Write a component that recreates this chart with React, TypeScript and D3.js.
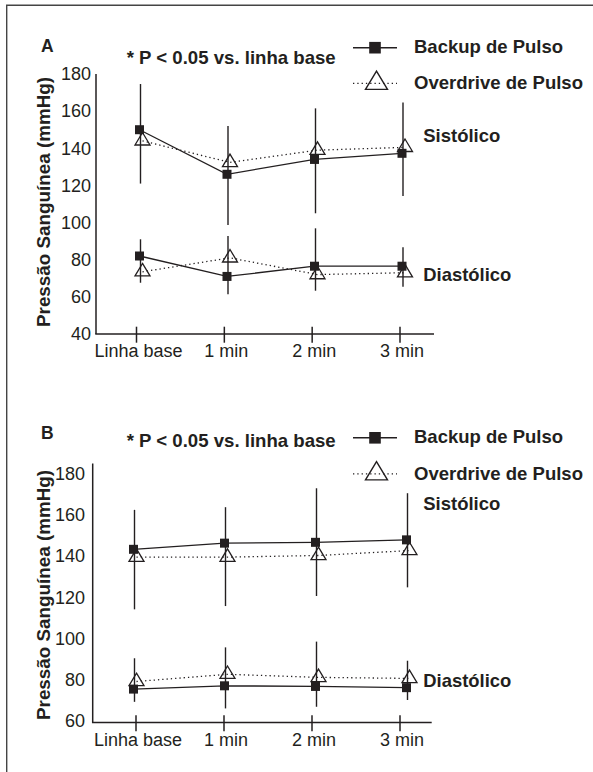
import React from 'react';
import * as d3 from 'd3';

const categories = ['Linha base', '1 min', '2 min', '3 min'];
const yTicksA = [40, 60, 80, 100, 120, 140, 160, 180];
const yTicksB = [60, 80, 100, 120, 140, 160, 180];
const seriesNames = ['Backup de Pulso', 'Overdrive de Pulso'];
const groupNames = ['Sistólico', 'Diastólico'];
const noteText = '* P < 0.05 vs. linha base';
const yTitle = 'Pressão Sanguínea (mmHg)';

// Panel A
const aBackupSys = [150, 126, 134, 137.3];
const aOverdriveSys = [144, 132.4, 139, 140.5];
const aBackupDia = [82, 71, 76.5, 76.5];
const aOverdriveDia = [73.5, 81, 72, 73];
const aSysErrLow = [121, 98.7, 105, 114.3];
const aSysErrHigh = [174.6, 152, 161.5, 164.6];
const aDiaErrLow = [67.6, 61.4, 63.3, 65.5];
const aDiaErrHigh = [91, 92.8, 96.9, 86.7];

// Panel B
const bBackupSys = [143.3, 146.3, 146.7, 147.9];
const bOverdriveSys = [139.5, 139.5, 140.3, 142.7];
const bBackupDia = [75.3, 76.9, 76.6, 76];
const bOverdriveDia = [79, 82.5, 81, 80.5];
const bSysErrLow = [114.1, 115.7, 120.6, 124.8];
const bSysErrHigh = [162.5, 163.8, 173, 170.6];
const bDiaErrLow = [69.1, 65.9, 66.7, 70];
const bDiaErrHigh = [90.3, 95.6, 98.4, 89.1];

const INK = '#231f20';
const FONT = "'Liberation Sans', Arial, Helvetica, sans-serif";

type PanelData = {
  letter: string;
  yTicks: number[];
  backupSys: number[];
  overdriveSys: number[];
  backupDia: number[];
  overdriveDia: number[];
  sysLo: number[];
  sysHi: number[];
  diaLo: number[];
  diaHi: number[];
};

type Layout = {
  axisX: number;
  axisRight: number;
  yDomain: [number, number];
  yRange: [number, number];
  axisTop: number;
  axisBottom: number;
  tickRange: [number, number];
  dataRange: [number, number];
  yLabelEnd: number;
  letterY: number;
  noteY: number;
  legendY1: number;
  legendY2: number;
  sysLabelY: number;
  diaLabelY: number;
  titleCenterY: number;
};

const layoutA: Layout = {
  axisX: 96,
  axisRight: 434,
  yDomain: [40, 180],
  yRange: [334, 74],
  axisTop: 74,
  axisBottom: 334,
  tickRange: [136.5, 400],
  dataRange: [139.5, 402],
  yLabelEnd: 91,
  letterY: 52.3,
  noteY: 64.3,
  legendY1: 47.7,
  legendY2: 83.3,
  sysLabelY: 141.7,
  diaLabelY: 280.7,
  titleCenterY: 202,
};

const layoutB: Layout = {
  axisX: 92.7,
  axisRight: 431.7,
  yDomain: [59, 185],
  yRange: [722.6, 463.6],
  axisTop: 463.4,
  axisBottom: 722.6,
  tickRange: [136, 400],
  dataRange: [133.5, 406.5],
  yLabelEnd: 85,
  letterY: 439.3,
  noteY: 446.7,
  legendY1: 437.8,
  legendY2: 473.8,
  sysLabelY: 510,
  diaLabelY: 686.7,
  titleCenterY: 595,
};

const triPath = (cx: number, cy: number, w: number, h: number) => {
  // centroid at (cx, cy)
  const top = cy - (2 * h) / 3;
  const bot = cy + h / 3;
  return `M${cx},${top}L${cx + w / 2},${bot}L${cx - w / 2},${bot}Z`;
};

function Panel({ d, L }: { d: PanelData; L: Layout }) {
  const y = d3.scaleLinear().domain(L.yDomain).range(L.yRange);
  const xTick = d3.scalePoint<string>().domain(categories).range(L.tickRange);
  const xData = d3.scalePoint<string>().domain(categories).range(L.dataRange);
  const triOff = 3;

  const line = (vals: number[], off: number) =>
    d3
      .line<number>()
      .x((_, i) => (xData(categories[i]) as number) + off)
      .y((v) => y(v))(vals) as string;

  const squares = (vals: number[], key: string) =>
    vals.map((v, i) => (
      <rect
        key={key + i}
        x={(xData(categories[i]) as number) - 4.5}
        y={y(v) - 4.5}
        width={9}
        height={9}
        fill={INK}
      />
    ));

  const triangles = (vals: number[], key: string) =>
    vals.map((v, i) => (
      <path
        key={key + i}
        d={triPath((xData(categories[i]) as number) + triOff, y(v), 15, 12.5)}
        fill="none"
        stroke={INK}
        strokeWidth={1.3}
      />
    ));

  const errBars = (lo: number[], hi: number[], key: string) =>
    lo.map((l, i) => {
      const x = (xData(categories[i]) as number) + 1;
      return (
        <line key={key + i} x1={x} x2={x} y1={y(hi[i])} y2={y(l)} stroke={INK} strokeWidth={1.4} />
      );
    });

  const legX1 = 353;
  const legX2 = 397;
  const legCx = 375;

  return (
    <g fontFamily={FONT} fill={INK}>
      {/* panel letter */}
      <text x={41} y={L.letterY} fontSize={17.5} fontWeight="bold">
        {d.letter}
      </text>
      <text x={126.7} y={L.noteY} fontSize={18.5} fontWeight="bold" textLength={209} lengthAdjust="spacingAndGlyphs">
        {noteText}
      </text>

      {/* legend */}
      <line x1={legX1} x2={legX2} y1={L.legendY1} y2={L.legendY1} stroke={INK} strokeWidth={1.4} />
      <rect x={legCx - 5.8} y={L.legendY1 - 5.8} width={11.6} height={11.6} fill={INK} />
      <text x={414} y={L.legendY1 + 5.6} fontSize={18.5} fontWeight="bold" textLength={149} lengthAdjust="spacingAndGlyphs">
        {seriesNames[0]}
      </text>
      <line
        x1={legX1}
        x2={legX2}
        y1={L.legendY2}
        y2={L.legendY2}
        stroke={INK}
        strokeWidth={1.3}
        strokeDasharray="1.3,3"
      />
      <path d={triPath(legCx + 1.5, L.legendY2, 22, 18.3)} fill="none" stroke={INK} strokeWidth={1.4} />
      <text x={414} y={L.legendY2 + 6} fontSize={18.5} fontWeight="bold" textLength={169} lengthAdjust="spacingAndGlyphs">
        {seriesNames[1]}
      </text>

      {/* axis title */}
      <text
        transform={`translate(49.5,${L.titleCenterY}) rotate(-90)`}
        textAnchor="middle"
        fontSize={18.5}
        fontWeight="bold"
        textLength={250}
        lengthAdjust="spacingAndGlyphs"
      >
        {yTitle}
      </text>

      {/* y axis */}
      <line x1={L.axisX} x2={L.axisX} y1={L.axisTop} y2={L.axisBottom} stroke={INK} strokeWidth={1.5} />
      {d.yTicks.map((t) => (
        <text key={'yt' + t} x={L.yLabelEnd} y={y(t) + 6.3} textAnchor="end" fontSize={18}>
          {t}
        </text>
      ))}

      {/* x axis */}
      <line x1={L.axisX - 0.75} x2={L.axisRight} y1={L.axisBottom} y2={L.axisBottom} stroke={INK} strokeWidth={1.5} />
      {categories.map((c) => (
        <g key={'xt' + c}>
          <line
            x1={xTick(c) as number}
            x2={xTick(c) as number}
            y1={L.axisBottom - 7.3}
            y2={L.axisBottom + 8.7}
            stroke={INK}
            strokeWidth={1.5}
          />
          <text x={(xTick(c) as number) + 2} y={L.axisBottom + 23} textAnchor="middle" fontSize={18}>
            {c}
          </text>
        </g>
      ))}

      {/* error bars */}
      {errBars(d.sysLo, d.sysHi, 'es')}
      {errBars(d.diaLo, d.diaHi, 'ed')}

      {/* lines */}
      <path d={line(d.backupSys, 0)} fill="none" stroke={INK} strokeWidth={1.3} />
      <path d={line(d.backupDia, 0)} fill="none" stroke={INK} strokeWidth={1.3} />
      <path d={line(d.overdriveSys, triOff)} fill="none" stroke={INK} strokeWidth={1.3} strokeDasharray="1.3,3" />
      <path d={line(d.overdriveDia, triOff)} fill="none" stroke={INK} strokeWidth={1.3} strokeDasharray="1.3,3" />

      {/* markers */}
      {triangles(d.overdriveSys, 'ts')}
      {triangles(d.overdriveDia, 'td')}
      {squares(d.backupSys, 'ss')}
      {squares(d.backupDia, 'sd')}

      {/* group labels */}
      <text x={423.3} y={L.sysLabelY} fontSize={18.5} fontWeight="bold" textLength={77} lengthAdjust="spacingAndGlyphs">
        {groupNames[0]}
      </text>
      <text x={423.3} y={L.diaLabelY} fontSize={18.5} fontWeight="bold" textLength={88} lengthAdjust="spacingAndGlyphs">
        {groupNames[1]}
      </text>
    </g>
  );
}

const dataA: PanelData = {
  letter: 'A',
  yTicks: yTicksA,
  backupSys: aBackupSys,
  overdriveSys: aOverdriveSys,
  backupDia: aBackupDia,
  overdriveDia: aOverdriveDia,
  sysLo: aSysErrLow,
  sysHi: aSysErrHigh,
  diaLo: aDiaErrLow,
  diaHi: aDiaErrHigh,
};

const dataB: PanelData = {
  letter: 'B',
  yTicks: yTicksB,
  backupSys: bBackupSys,
  overdriveSys: bOverdriveSys,
  backupDia: bBackupDia,
  overdriveDia: bOverdriveDia,
  sysLo: bSysErrLow,
  sysHi: bSysErrHigh,
  diaLo: bDiaErrLow,
  diaHi: bDiaErrHigh,
};

export default function App() {
  return (
    <svg
      width={593}
      height={772}
      viewBox="0 0 593 772"
      style={{ position: 'absolute', left: 0, top: 0, background: '#fff' }}
    >
      <rect x={0} y={0} width={593} height={772} fill="#fff" />
      {/* frame (top & left) */}
      <path d="M6.7,772V5.3H593" fill="none" stroke="#444" strokeWidth={1.4} />
      <Panel d={dataA} L={layoutA} />
      <Panel d={dataB} L={layoutB} />
    </svg>
  );
}
